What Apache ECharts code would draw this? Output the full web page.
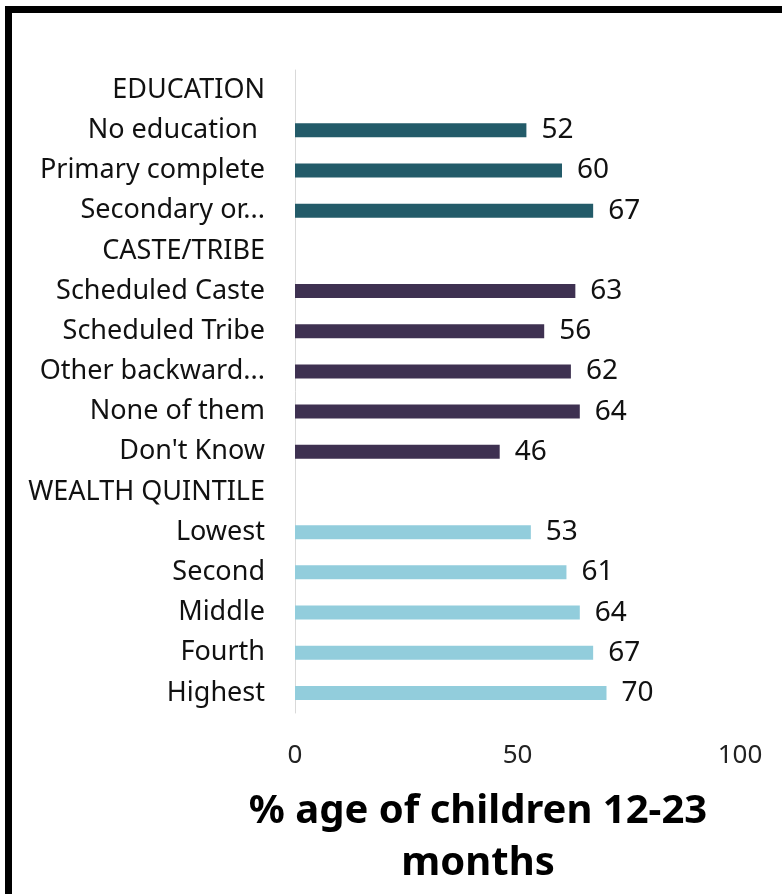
<!DOCTYPE html>
<html><head><meta charset="utf-8">
<script src="https://cdn.jsdelivr.net/npm/echarts@6/dist/echarts.min.js"></script>
<style>
html,body{margin:0;padding:0;background:#fff;}
#frame{position:absolute;left:5px;top:6px;width:820px;height:884px;border-left:7px solid #000;border-top:7px solid #000;border-bottom:2px solid #888;}
#chart{position:absolute;left:0;top:0;width:782px;height:894px;}
</style></head>
<body>
<div id="frame"></div>
<div id="chart"></div>
<script>
const eduHeader = 'EDUCATION';
const eduLabels = ['No education ', 'Primary complete', 'Secondary or...'];
const eduValues = [52, 60, 67];
const casteHeader = 'CASTE/TRIBE';
const casteLabels = ['Scheduled Caste', 'Scheduled Tribe', 'Other backward...', 'None of them', "Don't Know"];
const casteValues = [63, 56, 62, 64, 46];
const wealthHeader = 'WEALTH QUINTILE';
const wealthLabels = ['Lowest', 'Second', 'Middle', 'Fourth', 'Highest'];
const wealthValues = [53, 61, 64, 67, 70];
const xTicks = [0, 50, 100];
const titleText = '% age of children 12-23\nmonths';

const colors = {edu: '#235B69', caste: '#3E3151', wealth: '#92CDDC'};

const categories = [];
const data = [];
function addGroup(header, labels, values, color) {
  categories.push(header); data.push(null);
  labels.forEach((l, i) => { categories.push(l); data.push({value: values[i], itemStyle: {color: color}}); });
}
addGroup(eduHeader, eduLabels, eduValues, colors.edu);
addGroup(casteHeader, casteLabels, casteValues, colors.caste);
addGroup(wealthHeader, wealthLabels, wealthValues, colors.wealth);

const FONT = 'Noto Sans';
const chart = echarts.init(document.getElementById('chart'));
chart.setOption({
  animation: false,
  grid: {left: 295, right: 42, top: 70, height: 643, containLabel: false},
  xAxis: {
    type: 'value', min: xTicks[0], max: xTicks[xTicks.length - 1], interval: 50,
    axisLine: {show: false}, axisTick: {show: false}, splitLine: {show: false},
    axisLabel: {color: '#222', fontSize: 26, fontFamily: FONT, margin: 30}
  },
  yAxis: {
    type: 'category', data: categories, inverse: true,
    axisLine: {show: true, lineStyle: {color: '#D9D9D9', width: 1}},
    axisTick: {show: false},
    axisLabel: {color: '#111', fontSize: 27, fontFamily: FONT, margin: 30}
  },
  series: [{
    type: 'bar', data: data, barWidth: 14,
    label: {show: true, position: 'right', distance: 15, color: '#111', fontSize: 28, fontFamily: FONT}
  }],
  graphic: [{
    type: 'text', x: 478, y: 786,
    style: {text: titleText, align: 'center', verticalAlign: 'top', fill: '#000', font: 'bold 40px "Noto Sans"', lineHeight: 52}
  }]
});
</script>
</body></html>
